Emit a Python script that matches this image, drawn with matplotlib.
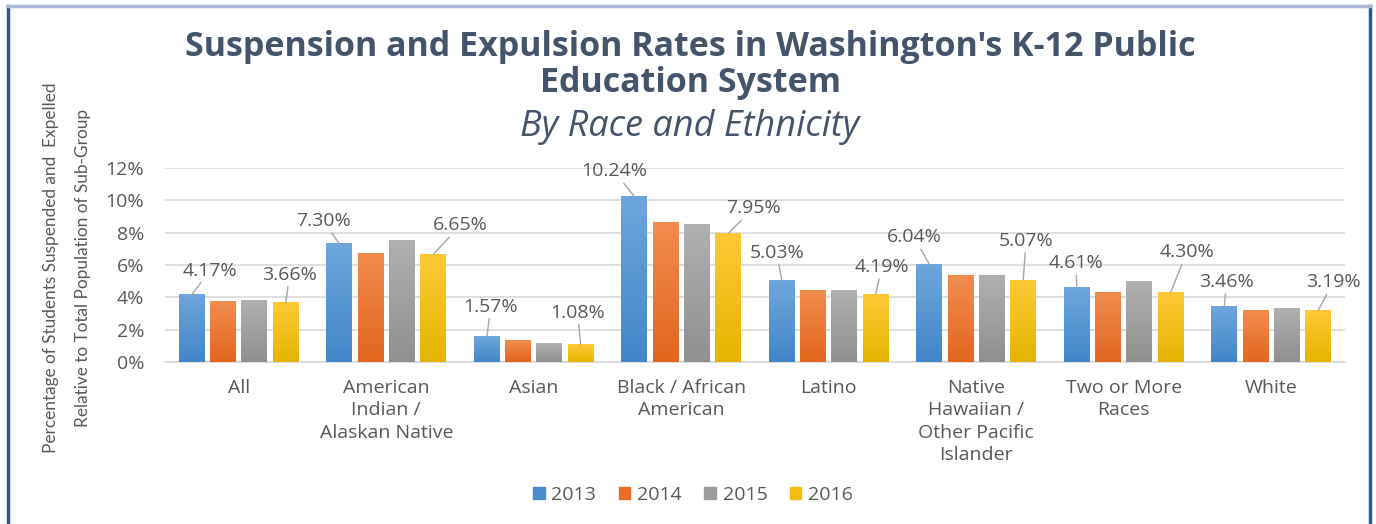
import matplotlib
matplotlib.use("Agg")
import matplotlib.pyplot as plt
import numpy as np
from matplotlib.colors import LinearSegmentedColormap
from matplotlib import font_manager

# ---- data ----
categories = ["All", "American\nIndian /\nAlaskan Native", "Asian", "Black / African\nAmerican",
              "Latino", "Native\nHawaiian /\nOther Pacific\nIslander", "Two or More\nRaces", "White"]
years = ["2013", "2014", "2015", "2016"]
rates_2013 = [4.17, 7.30, 1.57, 10.24, 5.03, 6.04, 4.61, 3.46]
rates_2014 = [3.77, 6.74, 1.32, 8.62, 4.45, 5.38, 4.27, 3.20]
rates_2015 = [3.83, 7.52, 1.16, 8.53, 4.45, 5.32, 4.95, 3.30]
rates_2016 = [3.66, 6.65, 1.08, 7.95, 4.19, 5.07, 4.30, 3.19]
yticks = [0, 2, 4, 6, 8, 10, 12]

series = [rates_2013, rates_2014, rates_2015, rates_2016]
top_colors = ["#6EA6DD", "#F28C4E", "#B0B0B0", "#FFC936"]
bot_colors = ["#4286C8", "#E2661E", "#909090", "#E6B400"]
legend_colors = ["#4A8BCB", "#E86E28", "#9C9C9C", "#F5BC10"]

# label offsets in pixels (dx, dy) from bar top centre (style only)
off_2013 = [(18, 24), (-16, 23), (4, 30), (-20, 25), (-5, 28), (-15, 27), (-1, 24), (2, 24)]
off_2016 = [(4, 28), (27, 29), (-3, 32), (25, 25), (6, 27), (3, 39), (16, 40), (15, 28)]

TXT = "#595959"
TITLE = "#44546A"
FONT = "Open Sans"
avail = {f.name for f in font_manager.fontManager.ttflist}
NARROW = "Liberation Sans Narrow" if "Liberation Sans Narrow" in avail else "Lato"
FS = 14

plt.rcParams["font.family"] = [FONT, "DejaVu Sans"]

fig = plt.figure(figsize=(13.76, 5.24), dpi=100)
ax = fig.add_axes([165 / 1376, 1 - 362 / 524, (1345 - 165) / 1376, (362 - 168) / 524])

x = np.arange(len(categories))
step = 0.212
width = 0.176
for i, (vals, c0, c1) in enumerate(zip(series, top_colors, bot_colors)):
    bars = ax.bar(x + (i - 1.5) * step, vals, width, color="none", edgecolor="none", zorder=3)
    cmap = LinearSegmentedColormap.from_list("g%d" % i, [c1, c0])
    grad = np.linspace(0, 1, 64).reshape(-1, 1)
    for b in bars:
        bx, by = b.get_x(), b.get_y()
        bw, bh = b.get_width(), b.get_height()
        ax.imshow(grad, extent=(bx, bx + bw, by, by + bh), origin="lower", cmap=cmap,
                  aspect="auto", zorder=3, interpolation="bicubic")

ax.set_xlim(-0.5, len(categories) - 0.5)
ax.set_ylim(0, 12)
ax.set_yticks(yticks)
ax.set_yticklabels([f"{t}%" for t in yticks], fontsize=FS, color=TXT)
ax.set_xticks(x)
ax.set_xticklabels(categories, fontsize=FS, color=TXT, linespacing=1.32, va="top")
ax.tick_params(axis="y", length=0, pad=15)
ax.tick_params(axis="x", length=0, pad=12)
ax.grid(axis="y", color="#D9D9D9", linewidth=1.2, zorder=0)
ax.set_axisbelow(True)
for s in ["top", "right", "left"]:
    ax.spines[s].set_visible(False)
ax.spines["bottom"].set_color("#D9D9D9")
ax.spines["bottom"].set_linewidth(1.2)

# data labels with leader lines
for vals, offs, idx in [(rates_2013, off_2013, 0), (rates_2016, off_2016, 3)]:
    for j, (v, (dx, dy)) in enumerate(zip(vals, offs)):
        ax.annotate(f"{v:.2f}%", xy=(x[j] + (idx - 1.5) * step, v), xytext=(dx, dy),
                    textcoords="offset pixels", ha="center", va="center", fontsize=FS,
                    color=TXT, annotation_clip=False, zorder=5,
                    arrowprops=dict(arrowstyle="-", color="#A6A6A6", lw=1,
                                    shrinkA=0, shrinkB=0))

# titles
fig.text(690 / 1376, 1 - 65 / 524, "Suspension and Expulsion Rates in Washington's K-12 Public\nEducation System",
         ha="center", va="center", fontsize=24.5, fontweight="bold", color=TITLE, linespacing=1.05)
fig.text(690 / 1376, 1 - 127 / 524, "By Race and Ethnicity", ha="center", va="center",
         fontsize=26, style="italic", color=TITLE)

# y label
fig.text(67 / 1376, 1 - 268 / 524,
         "Percentage of Students Suspended and  Expelled\nRelative to Total Population of Sub-Group",
         rotation=90, ha="center", va="center", fontsize=12.4, color=TXT, family=NARROW,
         linespacing=2.2)

# legend
handles = [plt.Rectangle((0, 0), 1, 1, color=c) for c in legend_colors]
fig.legend(handles, years, loc="center", bbox_to_anchor=(693 / 1376, 1 - 495 / 524), ncol=4,
           frameon=False, fontsize=14, labelcolor=TXT, handlelength=0.6, handleheight=0.6,
           handletextpad=0.35, columnspacing=1.15)

# outer frame
fig.add_artist(plt.Line2D([8 / 1376, 8 / 1376], [0, 1 - 6 / 524], transform=fig.transFigure,
                          color="#2F5597", lw=2.5))
fig.add_artist(plt.Line2D([1370 / 1376, 1370 / 1376], [0, 1 - 6 / 524], transform=fig.transFigure,
                          color="#2F5597", lw=2.5))
fig.add_artist(plt.Line2D([8 / 1376, 1370 / 1376], [1 - 6 / 524, 1 - 6 / 524], transform=fig.transFigure,
                          color="#A9B9D6", lw=2.5))

fig.savefig("out.png", dpi=100)
